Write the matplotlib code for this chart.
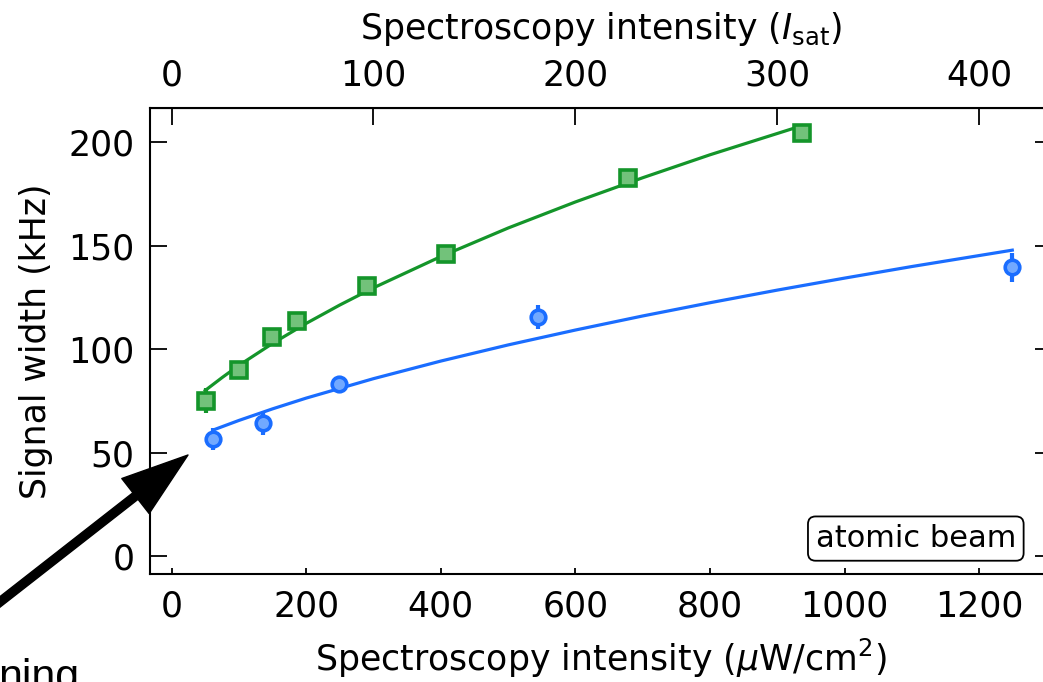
import matplotlib
matplotlib.use("Agg")
import matplotlib.pyplot as plt

# data
green_x = [50.5, 100, 149.5, 186.5, 291, 408, 678, 936]
green_y = [75.0, 90.0, 106.0, 113.7, 130.5, 146.0, 182.5, 204.2]
green_err = [6, 2, 3, 3, 3, 4.5, 3, 3]

blue_x = [62, 136, 248.5, 545, 1249]
blue_y = [56.5, 64.1, 82.9, 115.5, 139.5]
blue_err = [5.5, 5.5, 3.5, 6, 7]

# fit curves
green_fit_x = [50, 75, 100, 150, 200, 250, 300, 400, 500, 600, 700, 800, 936]
green_fit_y = [80.0, 86.2, 92.1, 102.7, 112.4, 121.3, 129.6, 144.7, 158.5, 171.1, 182.8, 193.9, 207.9]
blue_fit_x = [62, 100, 150, 200, 300, 400, 500, 600, 700, 800, 900, 1000, 1100, 1249]
blue_fit_y = [60.9, 65.5, 71.1, 76.3, 85.7, 94.2, 102.0, 109.2, 116.0, 122.4, 128.5, 134.3, 139.9, 147.8]

I_sat = 3.0  # uW/cm^2
green = '#14952a'
green_fill = '#72c27a'
blue = '#1a6dff'
blue_fill = '#72a9ff'

fig = plt.figure(figsize=(10.43, 6.82), dpi=100)
ax = fig.add_axes([150/1043, (682-574)/682, (1052-150)/1043, (574-108)/682])

ax.plot(green_fit_x, green_fit_y, color=green, lw=2.3, zorder=2)
ax.plot(blue_fit_x, blue_fit_y, color=blue, lw=2.3, zorder=2)
ax.errorbar(green_x, green_y, yerr=green_err, fmt='s', ms=11, mfc=green_fill, mec=green,
            mew=2.6, ecolor=green, elinewidth=3, capsize=0, zorder=3)
ax.errorbar(blue_x, blue_y, yerr=blue_err, fmt='o', ms=10.5, mfc=blue_fill, mec=blue,
            mew=2.6, ecolor=blue, elinewidth=3, capsize=0, zorder=3)

ax.set_xlim(-32, 1308)
ax.set_ylim(-8.7, 216.5)
ax.set_xticks([0, 200, 400, 600, 800, 1000, 1200])
ax.set_yticks([0, 50, 100, 150, 200])
ax.tick_params(axis='both', direction='in', labelsize=25, width=1.3, colors='black')
ax.tick_params(axis='y', left=True, right=True, length=12, pad=11)
ax.tick_params(axis='x', top=False, length=4, pad=11)
for s in ax.spines.values():
    s.set_linewidth(1.5)

ax.set_xlabel(r'Spectroscopy intensity ($\mu$W/cm$^2$)', fontsize=25, labelpad=10)
ax.set_ylabel('Signal width (kHz)', fontsize=25, labelpad=11)

top = ax.secondary_xaxis('top', functions=(lambda x: x / I_sat, lambda x: x * I_sat))
top.set_xticks([0, 100, 200, 300, 400])
top.tick_params(direction='in', length=12, width=1.3, labelsize=25, pad=11)
top.set_xlabel(r'Spectroscopy intensity ($I_{\mathrm{sat}}$)', fontsize=25, labelpad=14)

ax.text(0.849, 0.076, 'atomic beam', transform=ax.transAxes, fontsize=22,
        ha='center', va='center',
        bbox=dict(boxstyle='round,pad=0.25', fc='white', ec='black', lw=1.3))

# arrow coming in from outside the plot
ax.annotate('', xy=(188, 227), xycoords='figure pixels',
            xytext=(-100, 2), textcoords='figure pixels',
            arrowprops=dict(facecolor='black', edgecolor='black', width=6,
                            headwidth=32, headlength=48, shrink=0),
            annotation_clip=False)
fig.text(-2/1043, -7/682, 'ning', fontsize=31, family='Liberation Sans', va='baseline')

fig.savefig('out.png', dpi=100)
